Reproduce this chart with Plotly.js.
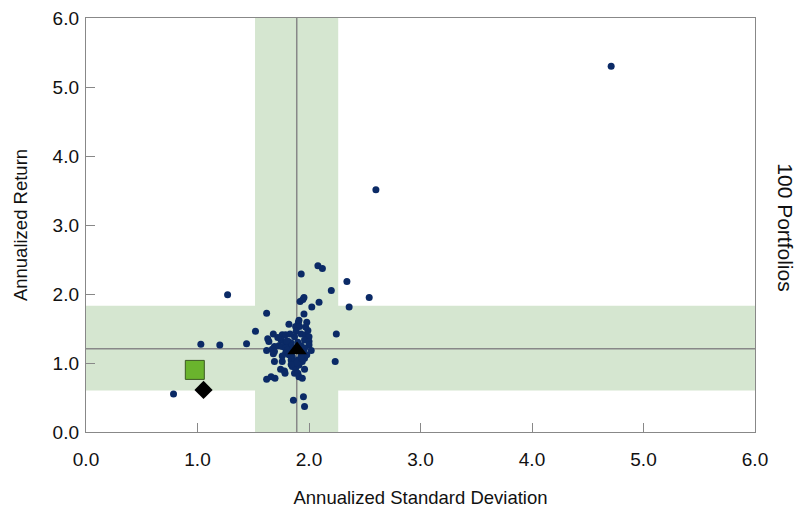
<!DOCTYPE html>
<html>
<head>
<meta charset="utf-8">
<script src="https://cdn.plot.ly/plotly-3.0.1.min.js"></script>
<style>html,body{margin:0;padding:0;background:#fff;}#chart{width:802px;height:516px;}</style>
</head>
<body>
<div id="chart"></div>
<script>
// Portfolio points (annualized standard deviation, annualized return)
const portfolioStd = [4.71,2.60,2.08,2.12,1.93,2.34,2.20,2.54,1.27,2.36,
  1.955,1.92,1.945,2.09,2.025,1.62,1.955,1.98,1.82,1.905,
  1.88,1.915,1.52,1.68,1.76,1.79,1.885,1.93,1.975,2.00,
  2.235,2.245,1.75,1.79,1.815,1.64,1.69,1.73,1.81,1.96,
  2.00,2.00,1.93,1.84,1.03,1.20,1.44,1.62,1.67,1.69,
  1.76,1.79,1.81,1.96,1.79,1.82,1.85,1.69,1.76,1.84,
  1.87,1.90,1.96,1.94,1.745,1.78,1.85,1.88,1.91,1.96,
  1.87,1.90,1.91,1.94,1.66,1.62,1.695,1.785,1.86,1.95,
  1.96,0.785,1.68,1.87,1.83,1.99,1.95,1.98,1.90,1.86,
  1.93,1.80,1.72,1.97,1.89,1.76,1.63,1.91,1.84,2.02];
const portfolioRet = [5.30,3.51,2.41,2.37,2.29,2.18,2.05,1.95,1.99,1.81,
  1.95,1.89,1.92,1.88,1.81,1.72,1.71,1.59,1.56,1.59,
  1.53,1.53,1.46,1.42,1.41,1.41,1.46,1.42,1.41,1.38,
  1.02,1.42,1.335,1.30,1.31,1.31,1.24,1.25,1.25,1.335,
  1.31,1.26,1.25,1.29,1.27,1.26,1.28,1.18,1.20,1.165,
  1.24,1.215,1.19,1.215,1.14,1.12,1.09,1.02,1.02,1.045,
  1.02,1.045,1.07,1.02,0.91,0.885,0.95,0.925,0.97,0.91,
  0.85,0.85,0.80,0.78,0.80,0.765,0.78,0.85,0.46,0.51,
  0.37,0.55,1.135,1.38,1.42,1.47,1.16,1.12,1.30,1.22,
  1.10,1.32,1.37,1.52,1.00,1.10,1.35,1.62,0.98,1.18];

// Special markers
const squarePt = {x: [0.976], y: [0.90]};
const diamondPt = {x: [1.054], y: [0.61]};
const trianglePt = {x: [1.893], y: [1.19]};

// Reference bands and lines
const stdBand = [1.516, 2.262];
const retBand = [0.60, 1.83];
const stdLine = 1.89;
const retLine = 1.205;

const tickVals = [0,1,2,3,4,5,6];
const tickText = ["0.0","1.0","2.0","3.0","4.0","5.0","6.0"];

const traces = [
  {x: portfolioStd, y: portfolioRet, mode: 'markers', type: 'scatter',
   marker: {color: '#0b2a66', size: 7}, hoverinfo: 'skip', showlegend: false},
  {x: trianglePt.x, y: trianglePt.y, mode: 'markers', type: 'scatter',
   marker: {symbol: 'triangle-up', color: '#000', size: 17}, showlegend: false},
  {x: squarePt.x, y: squarePt.y, mode: 'markers', type: 'scatter',
   marker: {symbol: 'square', color: '#6ab42d', size: 19, line: {color: '#3c5a22', width: 1}}, showlegend: false},
  {x: diamondPt.x, y: diamondPt.y, mode: 'markers', type: 'scatter',
   marker: {symbol: 'diamond', color: '#000', size: 14}, showlegend: false}
];

const bandColor = '#d5e6d0';
const lineColor = '#888888';
const layout = {
  width: 802, height: 516,
  margin: {l: 86, r: 47, t: 18, b: 84},
  paper_bgcolor: '#fff', plot_bgcolor: '#fff',
  font: {family: '"Liberation Sans Narrow", "Liberation Sans", Arial, sans-serif', color: '#111', size: 19},
  xaxis: {range: [0, 6], tickvals: tickVals, ticktext: tickText, showgrid: false, zeroline: false,
    showline: true, linecolor: '#888', linewidth: 1.2, mirror: true, ticks: 'inside', ticklen: 9,
    tickcolor: '#888', ticklabelstandoff: 10,
    title: {text: 'Annualized Standard Deviation', font: {size: 18.5}, standoff: 22}},
  yaxis: {range: [0, 6], tickvals: tickVals, ticktext: tickText, showgrid: false, zeroline: false,
    showline: true, linecolor: '#888', linewidth: 1.2, mirror: true, ticks: 'inside', ticklen: 9,
    tickcolor: '#888', ticklabelstandoff: 2,
    title: {text: 'Annualized Return', font: {size: 18.5}, standoff: 20}},
  shapes: [
    {type: 'rect', xref: 'x', yref: 'y', x0: stdBand[0], x1: stdBand[1], y0: 0, y1: 6,
     fillcolor: bandColor, line: {width: 0}, layer: 'below'},
    {type: 'rect', xref: 'x', yref: 'y', x0: 0, x1: 6, y0: retBand[0], y1: retBand[1],
     fillcolor: bandColor, line: {width: 0}, layer: 'below'},
    {type: 'line', xref: 'x', yref: 'y', x0: stdLine, x1: stdLine, y0: 0, y1: 6,
     line: {color: lineColor, width: 1.5}, layer: 'below'},
    {type: 'line', xref: 'x', yref: 'y', x0: 0, x1: 6, y0: retLine, y1: retLine,
     line: {color: lineColor, width: 1.5}, layer: 'below'}
  ],
  annotations: [
    {text: '100 Portfolios', xref: 'paper', yref: 'paper', x: 1.046, y: 0.495,
     showarrow: false, textangle: 90, xanchor: 'center', yanchor: 'middle',
     font: {family: '"Liberation Sans", Arial, sans-serif', size: 21, color: '#111'}}
  ]
};

Plotly.newPlot('chart', traces, layout, {displayModeBar: false, staticPlot: true});
</script>
</body>
</html>
